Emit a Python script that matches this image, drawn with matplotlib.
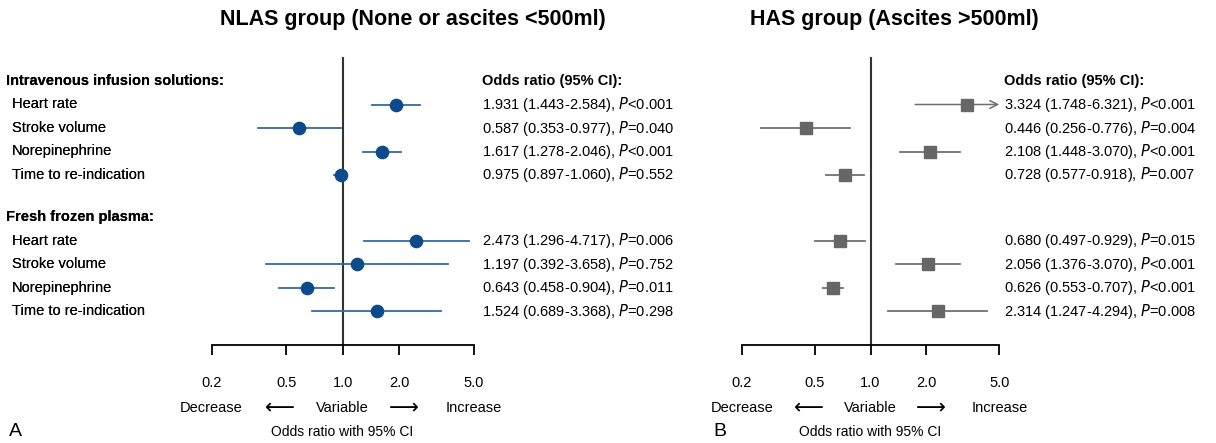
import matplotlib
matplotlib.use("Agg")
import matplotlib.pyplot as plt
from matplotlib.transforms import blended_transform_factory

plt.rcParams['font.family'] = ['Liberation Sans', 'DejaVu Sans']

# ---- data ----
groups = ["Intravenous infusion solutions:", "Fresh frozen plasma:"]
variables = ["Heart rate", "Stroke volume", "Norepinephrine", "Time to re-indication"]

nlas_or = [1.931, 0.587, 1.617, 0.975, 2.473, 1.197, 0.643, 1.524]
nlas_lo = [1.443, 0.353, 1.278, 0.897, 1.296, 0.392, 0.458, 0.689]
nlas_hi = [2.584, 0.977, 2.046, 1.060, 4.717, 3.658, 0.904, 3.368]
nlas_p = ["<0.001", "=0.040", "<0.001", "=0.552", "=0.006", "=0.752", "=0.011", "=0.298"]

has_or = [3.324, 0.446, 2.108, 0.728, 0.680, 2.056, 0.626, 2.314]
has_lo = [1.748, 0.256, 1.448, 0.577, 0.497, 1.376, 0.553, 1.247]
has_hi = [6.321, 0.776, 3.070, 0.918, 0.929, 3.070, 0.707, 4.294]
has_p = ["<0.001", "=0.004", "<0.001", "=0.007", "=0.015", "<0.001", "<0.001", "=0.008"]

ticks = [0.2, 0.5, 1.0, 2.0, 5.0]
tick_labels = ["0.2", "0.5", "1.0", "2.0", "5.0"]

W, H = 1216, 443
fig = plt.figure(figsize=(W / 100, H / 100), dpi=100)

ROW = 23.5        # px per row
TOP = 81          # px of first heading
group_gap = 1.8   # extra rows before the second heading


def row_positions():
    heads, rows = [], []
    pos = 0.0
    for g in range(len(groups)):
        heads.append(pos)
        for i in range(len(variables)):
            rows.append(pos + 1 + i)
        pos += len(variables) + group_gap
    return heads, rows


def py(p):
    # pixel row -> data y
    return (p - TOP) / ROW


def panel(x0, x1, title, title_x, ors, los, his, ps, color, line_color,
          marker, ms, text_x, letter, letter_x):
    ax = fig.add_axes([x0 / W, 0, (x1 - x0) / W, 1])
    ax.set_xscale("log")
    ax.set_xlim(0.2, 5.0)
    ax.set_ylim(py(H), py(0))
    ax.patch.set_alpha(0)
    for s in ["top", "left", "right"]:
        ax.spines[s].set_visible(False)
    axis_y = py(345)
    ax.spines["bottom"].set_position(("data", axis_y))
    ax.spines["bottom"].set_linewidth(1.3)
    ax.set_yticks([])
    ax.xaxis.set_minor_locator(matplotlib.ticker.NullLocator())
    ax.set_xticks(ticks)
    ax.set_xticklabels(tick_labels, fontsize=10.5)
    ax.tick_params(axis="x", direction="out", length=7.5, width=1.3, pad=15)

    ax.plot([1, 1], [py(58), axis_y], color="#333333", lw=1.5, zorder=1)

    heads, rows = row_positions()
    tx = blended_transform_factory(fig.transFigure, ax.transData)
    for y, g in zip(heads, groups):
        ax.text(6 / W, y, g, transform=tx, fontsize=10.5, fontweight="bold",
                va="center", ha="left")
    ax.text(text_x / W, heads[0], "Odds ratio (95% CI):", transform=tx,
            fontsize=10.5, fontweight="bold", va="center", ha="left")
    for k, y in enumerate(rows):
        ax.text(12 / W, y, variables[k % len(variables)], transform=tx,
                fontsize=10.5, va="center", ha="left")
        ax.text(text_x / W, y,
                "%.3f (%.3f-%.3f), $\\it{P}$%s" % (ors[k], los[k], his[k], ps[k]),
                transform=tx, fontsize=10.5, va="center", ha="left")
        hi = his[k]
        if hi > 5.0:
            ax.annotate("", xy=(5.0, y), xytext=(los[k], y),
                        arrowprops=dict(arrowstyle="->", color=line_color, lw=1.1,
                                        shrinkA=0, shrinkB=0, mutation_scale=14),
                        annotation_clip=False)
        else:
            ax.plot([los[k], hi], [y, y], color=line_color, lw=1.3, zorder=2)
        ax.plot(ors[k], y, marker=marker, ms=ms, color=color, mec=color, zorder=3)

    ax.text(title_x / W, py(20), title, transform=tx, fontsize=15.5,
            fontweight="bold", ha="left", va="center")
    yb = py(408)
    ax.text(0.2, yb, "Decrease", fontsize=10.5, ha="center", va="center")
    ax.text(5.0, yb, "Increase", fontsize=10.5, ha="center", va="center")
    ax.text(1.0, yb, "Variable", fontsize=10.5, ha="center", va="center")
    xa = blended_transform_factory(ax.transAxes, ax.transData)
    ax.text(0.26, yb, "\u27f5", fontsize=15, transform=xa,
            ha="center", va="center", family=["DejaVu Sans"])
    ax.text(0.735, yb, "\u27f6", fontsize=15, transform=xa,
            ha="center", va="center", family=["DejaVu Sans"])
    ax.text(1.0, py(432), "Odds ratio with 95% CI", fontsize=10,
            ha="center", va="center")
    ax.text(letter_x / W, py(432), letter, transform=tx, fontsize=14,
            ha="left", va="center")
    return ax


panel(211.6, 473.6, "NLAS group (None or ascites <500ml)", 220,
      nlas_or, nlas_lo, nlas_hi, nlas_p, "#0b4a8b", "#3469a5", "o", 8.8,
      482, "A", 9)
panel(741.7, 999.3, "HAS group (Ascites >500ml)", 750,
      has_or, has_lo, has_hi, has_p, "#666666", "#707070", "s", 8.4,
      1004, "B", 713)

fig.savefig("out.png", dpi=100)
